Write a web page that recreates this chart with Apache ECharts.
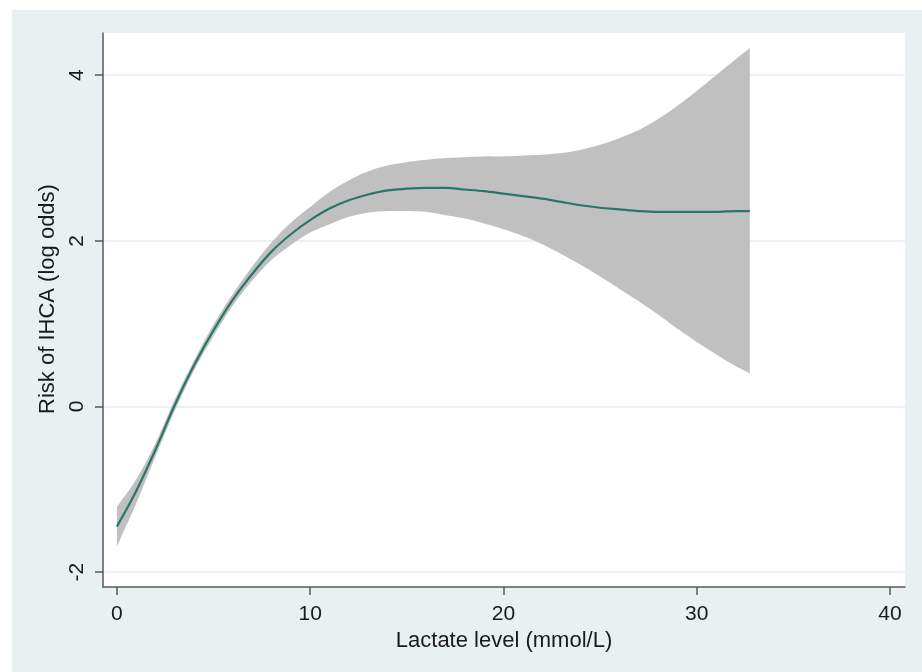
<!DOCTYPE html>
<html><head><meta charset="utf-8">
<script src="https://cdn.jsdelivr.net/npm/echarts@6/dist/echarts.min.js"></script>
<style>
html,body{margin:0;padding:0;background:#fff}
#wrap{position:relative;width:922px;height:672px;overflow:hidden}
#bg{position:absolute;left:12px;top:10px;width:910px;height:662px;background:#e9f0f2}
#c{position:absolute;left:0;top:0;width:922px;height:672px}
</style>
</head><body><div id="wrap"><div id="bg"></div><div id="c"></div></div>
<script>
// Lactate level (mmol/L)
const lactate = [0,1,2,3,4,5,6,7,8,9,10,11,12,13,14,15,16,17,18,19,20,21,22,23,24,25,26,27,28,29,30,31,32,32.75];
// fitted risk of IHCA (log odds)
const logOdds = [-1.45,-1.02,-0.52,0.02,0.50,0.92,1.29,1.60,1.87,2.08,2.25,2.39,2.49,2.56,2.61,2.63,2.64,2.64,2.62,2.60,2.57,2.54,2.51,2.47,2.43,2.40,2.38,2.36,2.35,2.35,2.35,2.35,2.36,2.36];
// 95% CI
const ciUpper = [-1.21,-0.88,-0.44,0.09,0.56,0.99,1.36,1.69,1.98,2.22,2.41,2.59,2.73,2.84,2.91,2.95,2.98,3.00,3.01,3.02,3.02,3.03,3.04,3.06,3.10,3.16,3.24,3.34,3.47,3.63,3.81,4.00,4.19,4.33];
const ciLower = [-1.69,-1.17,-0.60,-0.05,0.44,0.85,1.22,1.52,1.77,1.95,2.10,2.20,2.29,2.34,2.36,2.36,2.35,2.31,2.27,2.21,2.14,2.06,1.96,1.84,1.71,1.57,1.42,1.27,1.11,0.94,0.78,0.63,0.49,0.40];
const xTicks = [0,10,20,30,40];
const yTicks = [-2,0,2,4];

const font = 'Liberation Sans, Arial, sans-serif';

// Catmull-Rom sampling of pixel points (smooth outline)
function spline(pts, steps) {
  const out = [];
  const n = pts.length;
  for (let i = 0; i < n - 1; i++) {
    const p0 = pts[Math.max(i - 1, 0)], p1 = pts[i], p2 = pts[i + 1], p3 = pts[Math.min(i + 2, n - 1)];
    for (let s = 0; s < steps; s++) {
      const t = s / steps, t2 = t * t, t3 = t2 * t;
      const f = (a, b, c, d) => 0.5 * ((2 * b) + (-a + c) * t + (2 * a - 5 * b + 4 * c - d) * t2 + (-a + 3 * b - 3 * c + d) * t3);
      out.push([f(p0[0], p1[0], p2[0], p3[0]), f(p0[1], p1[1], p2[1], p3[1])]);
    }
  }
  out.push(pts[n - 1]);
  return out;
}

const chart = echarts.init(document.getElementById('c'), null, {renderer:'canvas'});
chart.setOption({
  backgroundColor: 'transparent',
  animation: false,
  grid: {left:103, right:17, top:33, bottom:85, show:true, backgroundColor:'#ffffff', borderWidth:0},
  xAxis: {
    type:'value', min:-0.72, max:40.78,
    name:'Lactate level (mmol/L)', nameLocation:'middle', nameGap:40,
    nameTextStyle:{fontFamily:font, fontSize:22, color:'#1a1a1a'},
    axisLine:{show:true, onZero:false, lineStyle:{color:'#595959', width:1.5}},
    axisTick:{show:true, length:8, customValues:xTicks, lineStyle:{color:'#595959', width:1.5}},
    axisLabel:{customValues:xTicks, margin:17, fontFamily:font, fontSize:21, color:'#1a1a1a'},
    splitLine:{show:false}
  },
  yAxis: {
    type:'value', min:-2.18, max:4.51,
    name:'Risk of IHCA (log odds)', nameLocation:'middle', nameGap:43,
    nameTextStyle:{fontFamily:font, fontSize:22, color:'#1a1a1a', padding:[0,0,0,22]},
    axisLine:{show:true, onZero:false, lineStyle:{color:'#595959', width:1.5}},
    axisTick:{show:true, length:8, customValues:yTicks, lineStyle:{color:'#595959', width:1.5}},
    axisLabel:{customValues:yTicks, rotate:90, margin:15, fontFamily:font, fontSize:21, color:'#1a1a1a'},
    splitLine:{show:true, lineStyle:{color:'#e4edf1', width:1.5}}
  },
  series: [
    {type:'custom', name:'95% CI', z:1, silent:true,
     data:[[lactate[0], ciLower[0]]],
     renderItem: function (params, api) {
       const up = spline(lactate.map((x, i) => api.coord([x, ciUpper[i]])), 8);
       const lo = spline(lactate.map((x, i) => api.coord([x, ciLower[i]])), 8);
       const pts = up.concat(lo.reverse());
       return {type:'polygon', shape:{points:pts}, style:{fill:'#c0c0c0', stroke:null}};
     }},
    {type:'line', name:'fit', symbol:'none', smooth:0.3,
     data: lactate.map((x,i)=>[x, logOdds[i]]), lineStyle:{color:'#2a756a', width:2.2}, z:3}
  ]
});
</script>
</body></html>
